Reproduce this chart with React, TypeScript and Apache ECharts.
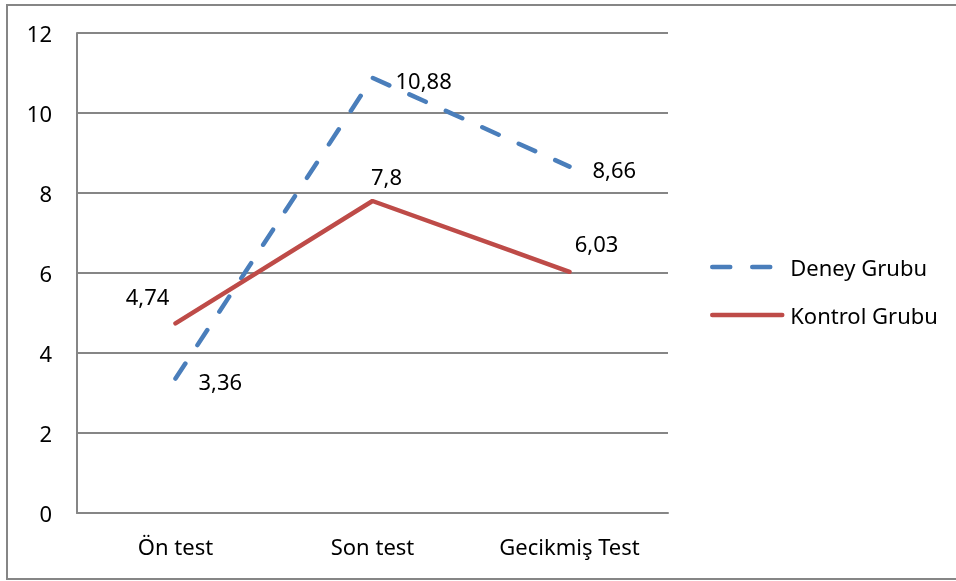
import React, { useEffect, useRef } from "react";
import * as echarts from "echarts";

const categories = ["Ön test", "Son test", "Gecikmiş Test"];
const deneyValues = [3.36, 10.88, 8.66];
const kontrolValues = [4.74, 7.8, 6.03];
const seriesNames = ["Deney Grubu", "Kontrol Grubu"];

// label placement (styling only)
const kontrolLabelOffsets = [
  [-28, -27],
  [14, -25],
  [27, -29],
];

const FONT = "Noto Sans";
const BLUE = "#4A7EBB";
const RED = "#BE4B48";
const fmt = (p: any) => String(p.value).replace(".", ",");

export default function App() {
  const ref = useRef<HTMLDivElement>(null);
  useEffect(() => {
    if (!ref.current) return;
    const chart = echarts.init(ref.current, undefined, { renderer: "svg" });
    chart.setOption({
      animation: false,
      textStyle: { fontFamily: FONT },
      graphic: [
        {
          type: "rect",
          shape: { x: 7, y: 5, width: 960, height: 574 },
          style: { fill: "none", stroke: "#868686", lineWidth: 2 },
          silent: true,
        },
      ],
      grid: { left: 77, top: 33, width: 591, height: 480 },
      legend: {
        orient: "vertical",
        left: 705,
        top: 251,
        itemWidth: 70,
        itemHeight: 14,
        itemGap: 26,
        textStyle: { fontFamily: FONT, fontSize: 22, color: "#000", padding: [0, 0, 0, 3] },
        data: [
          {
            name: seriesNames[0],
            itemStyle: { opacity: 0 },
            lineStyle: { color: BLUE, width: 4.5, type: [18, 22], cap: "round" },
          },
          {
            name: seriesNames[1],
            itemStyle: { opacity: 0 },
            lineStyle: { color: RED, width: 4.5, cap: "round" },
          },
        ],
      },
      xAxis: {
        type: "category",
        data: categories,
        boundaryGap: true,
        axisTick: { show: false },
        axisLine: { lineStyle: { color: "#868686", width: 2 } },
        axisLabel: { fontFamily: FONT, fontSize: 22, color: "#000", margin: 22 },
      },
      yAxis: {
        type: "value",
        min: 0,
        max: 12,
        interval: 2,
        axisLine: { show: true, lineStyle: { color: "#868686", width: 2 } },
        axisTick: { show: false },
        splitLine: { lineStyle: { color: "#868686", width: 2 } },
        axisLabel: { fontFamily: FONT, fontSize: 22, color: "#000", margin: 25 },
      },
      series: [
        {
          name: seriesNames[0],
          type: "line",
          data: deneyValues,
          symbol: "circle",
          symbolSize: 0,
          showSymbol: true,
          color: BLUE,
          lineStyle: { color: BLUE, width: 4.5, type: [18, 22], cap: "round" },
          label: {
            show: true,
            position: "right",
            distance: 23,
            offset: [0, 2],
            formatter: fmt,
            fontFamily: FONT,
            fontSize: 22,
            color: "#000",
          },
        },
        {
          name: seriesNames[1],
          type: "line",
          data: kontrolValues.map((v, i) => ({
            value: v,
            label: { position: "inside", offset: kontrolLabelOffsets[i] },
          })),
          symbol: "circle",
          symbolSize: 0,
          showSymbol: true,
          color: RED,
          lineStyle: { color: RED, width: 4.5, cap: "round" },
          label: {
            show: true,
            formatter: fmt,
            fontFamily: FONT,
            fontSize: 22,
            color: "#000",
          },
        },
      ],
    });
    return () => chart.dispose();
  }, []);
  return (
    <div
      ref={ref}
      style={{ position: "fixed", left: 0, top: 0, width: 956, height: 581 }}
    />
  );
}
